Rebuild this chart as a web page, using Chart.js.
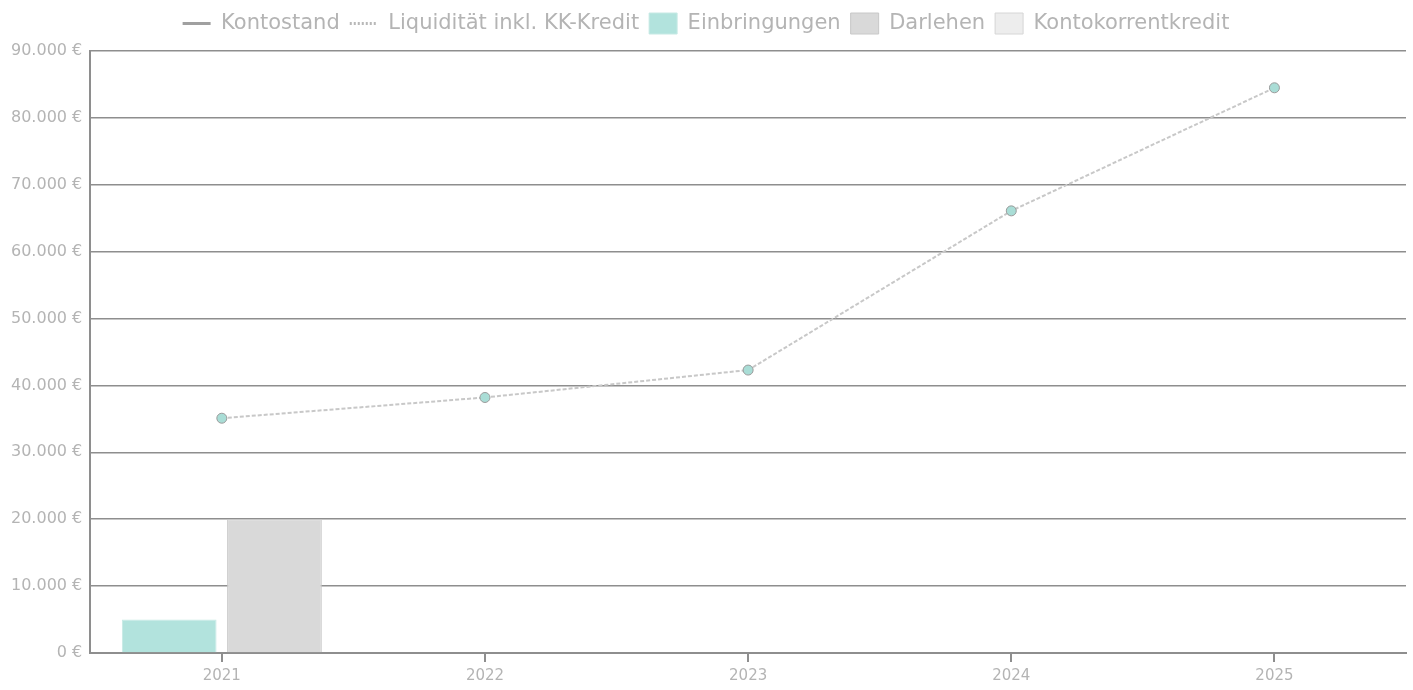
<!DOCTYPE html>
<html>
<head>
<meta charset="utf-8">
<script src="https://cdn.jsdelivr.net/npm/chart.js@4.4.1/dist/chart.umd.min.js"></script>
<style>
  html, body { margin: 0; padding: 0; background: #fff; }
  #wrap { width: 1413px; height: 690px; }
</style>
</head>
<body>
<div id="wrap"><canvas id="liquiChart"></canvas></div>
<script>
  var years          = ['2021', '2022', '2023', '2024', '2025'];
  var kontostand     = [null, null, null, null, null];
  var liquiditaet    = [35100, 38200, 42300, 66100, 84500];
  var einbringungen  = [5000, 0, 0, 0, 0];
  var darlehen       = [20000, 0, 0, 0, 0];
  var kkKredit       = [0, 0, 0, 0, 0];

  var textGrey = '#b4b4b4';
  var gridGrey = '#8e8e8e';

  function euro(v) {
    var s = String(Math.round(v));
    return s.replace(/\B(?=(\d{3})+(?!\d))/g, '.') + ' €';
  }

  // a bit more room between legend and plot
  var legendGap = {
    id: 'legendGap',
    beforeInit: function(ch) {
      var origFit = ch.legend.fit;
      ch.legend.fit = function() {
        origFit.bind(ch.legend)();
        this.height += 7;
      };
    }
  };

  var ctx = document.getElementById('liquiChart').getContext('2d');
  var chart = new Chart(ctx, {
    type: 'bar',
    plugins: [legendGap],
    data: {
      labels: years,
      datasets: [{
        type: 'line',
        label: 'Kontostand',
        data: kontostand,
        borderColor: '#a0a0a0',
        backgroundColor: '#a0a0a0',
        borderWidth: 3,
        pointStyle: 'line',
        order: 0
      }, {
        type: 'line',
        label: 'Liquidität inkl. KK-Kredit',
        data: liquiditaet,
        borderColor: '#c8c8c8',
        borderWidth: 2,
        borderDash: [4, 2],
        pointRadius: 5,
        pointBackgroundColor: '#a9ddd6',
        pointBorderColor: '#9a9a9a',
        pointBorderWidth: 1,
        backgroundColor: '#a9ddd6',
        pointStyle: 'circle',
        order: 0
      }, {
        label: 'Einbringungen',
        data: einbringungen,
        backgroundColor: '#b2e3dd',
        borderColor: '#c6e9e4',
        borderWidth: 1,
        stack: 'a',
        order: 1
      }, {
        label: 'Darlehen',
        data: darlehen,
        backgroundColor: '#d9d9d9',
        borderColor: '#c8c8c8',
        borderWidth: 1,
        stack: 'b',
        order: 1
      }, {
        label: 'Kontokorrentkredit',
        data: kkKredit,
        backgroundColor: '#ededed',
        borderColor: '#d6d6d6',
        borderWidth: 1,
        stack: 'b',
        order: 1
      }]
    },
    options: {
      responsive: true,
      maintainAspectRatio: false,
      animation: false,
      layout: { padding: { left: 3, right: 4, top: 3, bottom: 0 } },
      datasets: {
        bar: { categoryPercentage: 0.8, barPercentage: 0.9 }
      },
      plugins: {
        tooltip: { enabled: false },
        legend: {
          position: 'top',
          labels: {
            font: { family: 'DejaVu Sans', size: 21 },
            color: textGrey,
            usePointStyle: true,
            pointStyleWidth: 28,
            boxHeight: 21,
            padding: 10,
            generateLabels: function(ch) {
              return ch.data.datasets.map(function(ds, i) {
                var isLine = ds.type === 'line';
                return {
                  text: ds.label,
                  fillStyle: isLine ? ds.borderColor : ds.backgroundColor,
                  strokeStyle: isLine ? (i === 1 ? '#b8b8b8' : '#a0a0a0') : ds.borderColor,
                  lineWidth: isLine ? 3 : 1,
                  lineDash: i === 1 ? [2, 2] : [],
                  pointStyle: isLine ? 'line' : 'rect',
                  fontColor: textGrey,
                  hidden: false,
                  datasetIndex: i
                };
              });
            }
          }
        }
      },
      scales: {
        x: {
          offset: true,
          grid: {
            offset: false,
            drawOnChartArea: false,
            drawTicks: true,
            tickLength: 9,
            color: gridGrey,
            lineWidth: 2
          },
          border: { color: gridGrey, width: 2 },
          ticks: {
            font: { family: 'DejaVu Sans', size: 15 },
            color: textGrey,
            padding: 5
          }
        },
        y: {
          min: 0,
          max: 90000,
          stacked: false,
          ticks: {
            stepSize: 10000,
            font: { family: 'DejaVu Sans', size: 16 },
            color: textGrey,
            padding: 8,
            callback: function(v) { return euro(v); }
          },
          grid: {
            color: gridGrey,
            lineWidth: 1.5,
            drawTicks: false
          },
          border: { color: gridGrey, width: 2 }
        }
      }
    }
  });
</script>
</body>
</html>
